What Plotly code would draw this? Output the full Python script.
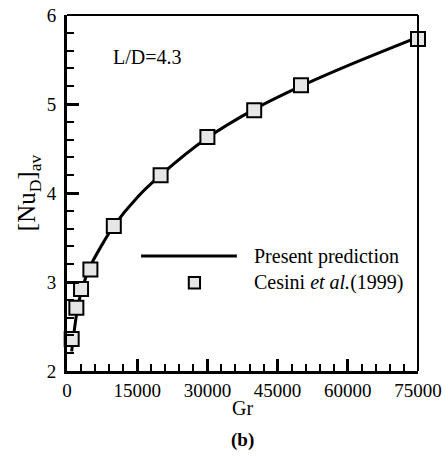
import plotly.graph_objects as go

# Present prediction (solid curve)
pred_gr = [1000, 2000, 3000, 5000, 7500, 10000, 15000, 20000, 30000, 40000, 50000, 60000, 75000]
pred_nu = [2.22, 2.62, 2.88, 3.18, 3.42, 3.63, 3.95, 4.20, 4.62, 4.94, 5.20, 5.43, 5.75]

# Cesini et al. (1999)
ces_gr = [1000, 2000, 3000, 5000, 10000, 20000, 30000, 40000, 50000, 75000]
ces_nu = [2.36, 2.71, 2.92, 3.14, 3.63, 4.20, 4.63, 4.93, 5.21, 5.73]

x_ticks = [0, 15000, 30000, 45000, 60000, 75000]
x_labels = ["0", "15000", "30000", "45000", "60000", "75000"]
y_ticks = [2, 3, 4, 5, 6]
y_labels = ["2", "3", "4", "5", "6"]

FONT = "Liberation Serif"

fig = go.Figure()
fig.add_trace(go.Scatter(x=pred_gr, y=pred_nu, mode="lines",
                         line=dict(color="black", width=3, shape="spline", smoothing=0.8),
                         showlegend=False))
fig.add_trace(go.Scatter(x=ces_gr, y=ces_nu, mode="markers",
                         marker=dict(symbol="square", size=14, color="#e6e6e6",
                                     line=dict(color="black", width=2)),
                         showlegend=False, cliponaxis=False))

fig.update_layout(
    width=445, height=460,
    margin=dict(l=67, r=27, t=15, b=89, autoexpand=False),
    paper_bgcolor="white", plot_bgcolor="white",
    font=dict(family=FONT, size=19, color="black"),
    xaxis=dict(range=[0, 75000], tickvals=x_ticks, ticktext=x_labels, ticks="inside", ticklen=12, tickwidth=3,
               tickcolor="black", showline=True, linewidth=3, linecolor="black",
               showgrid=False, zeroline=False, automargin=False,
               minor=dict(dtick=3000, ticks="inside", ticklen=7, tickwidth=1.5, tickcolor="black", showgrid=False),
               title=dict(text="Gr", font=dict(family=FONT, size=20), standoff=2),
               tickfont=dict(family=FONT, size=19, color="black")),
    yaxis=dict(range=[2, 6], tickvals=y_ticks, ticktext=y_labels, ticks="inside", ticklen=12, tickwidth=3,
               tickcolor="black", showline=True, linewidth=3, linecolor="black",
               showgrid=False, zeroline=False, automargin=False, ticklabelstandoff=4,
               minor=dict(dtick=0.2, ticks="inside", ticklen=7, tickwidth=1.5, tickcolor="black", showgrid=False),
               title=dict(text="[Nu<sub>D</sub>]<sub>av</sub>", font=dict(family=FONT, size=25), standoff=4),
               tickfont=dict(family=FONT, size=19, color="black")),
)

# thinner top and right frame
fig.add_shape(type="line", xref="x domain", yref="y domain", x0=0, x1=1, y0=1, y1=1,
              line=dict(color="black", width=2))
fig.add_shape(type="line", xref="x domain", yref="y domain", x0=1, x1=1, y0=0, y1=1,
              line=dict(color="black", width=2))

# manual legend
fig.add_shape(type="line", xref="x domain", yref="y domain", x0=0.211, x1=0.484, y0=0.323, y1=0.323,
              line=dict(color="black", width=3))
fig.add_shape(type="rect", xref="x domain", yref="y domain", x0=0.347, x1=0.379, y0=0.232, y1=0.264,
              fillcolor="#e6e6e6", line=dict(color="black", width=2))
fig.add_annotation(xref="x domain", yref="y domain", x=0.528, y=0.323, xanchor="left", yanchor="middle",
                   text="Present prediction", showarrow=False, font=dict(family=FONT, size=20))
fig.add_annotation(xref="x domain", yref="y domain", x=0.528, y=0.248, xanchor="left", yanchor="middle",
                   text="Cesini <i>et al.</i>(1999)", showarrow=False, font=dict(family=FONT, size=20))

fig.add_annotation(xref="x domain", yref="y domain", x=0.125, y=0.882, xanchor="left", yanchor="middle",
                   text="L/D=4.3", showarrow=False, font=dict(family=FONT, size=20))

fig.add_annotation(xref="paper", yref="paper", x=0.5, y=-0.195, xanchor="center", yanchor="middle",
                   text="<b>(b)</b>", showarrow=False, font=dict(family=FONT, size=19))

fig.write_html("out.html", config={"displayModeBar": False},
               post_script="document.body.style.margin='0px';document.body.style.overflow='hidden';")
